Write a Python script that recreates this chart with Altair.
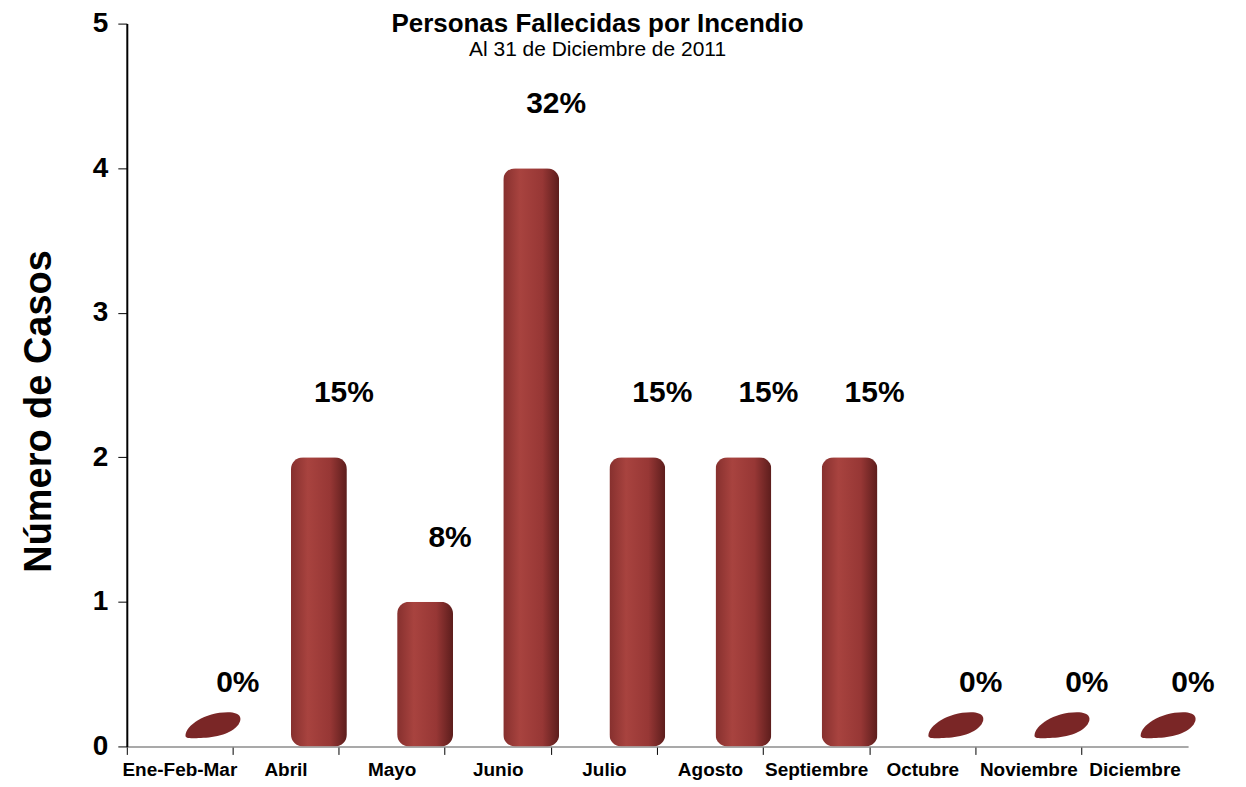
import altair as alt
import pandas as pd

meses = ["Ene-Feb-Mar", "Abril", "Mayo", "Junio", "Julio", "Agosto",
         "Septiembre", "Octubre", "Noviembre", "Diciembre"]
casos = [0, 2, 1, 4, 2, 2, 2, 0, 0, 0]
porcentajes = ["0%", "15%", "8%", "32%", "15%", "15%", "15%", "0%", "0%", "0%"]

df = pd.DataFrame({"mes": meses, "casos": casos, "pct": porcentajes})

FONT = "Liberation Sans"

x_enc = alt.X("mes:N", sort=meses, title=None,
              scale=alt.Scale(paddingInner=0, paddingOuter=0),
              axis=alt.Axis(labelAngle=0, labelFontSize=19, labelFontWeight="bold",
                            labelColor="black", labelFont=FONT, labelPadding=6,
                            tickSize=8, tickColor="black", bandPosition=0,
                            domainColor="#8c8c8c", domainWidth=1.5, labelLimit=200))
y_enc = alt.Y("casos:Q", title="Número de Casos",
              scale=alt.Scale(domain=[0, 5], nice=False),
              axis=alt.Axis(values=[0, 1, 2, 3, 4, 5], grid=False, labelFontSize=28,
                            labelFontWeight="bold", labelColor="black", labelFont=FONT,
                            labelPadding=10, tickSize=9, tickColor="black",
                            domainColor="black", domainWidth=2,
                            titleFontSize=38, titleFontWeight="bold", titleFont=FONT,
                            titleColor="black", titlePadding=34, titleY=388))

grad = alt.Gradient(gradient="linear", x1=0, x2=1, y1=0, y2=0,
                    stops=[alt.GradientStop(color="#86302e", offset=0),
                           alt.GradientStop(color="#a8433f", offset=0.3),
                           alt.GradientStop(color="#973735", offset=0.7),
                           alt.GradientStop(color="#5c1d1c", offset=1)])

bars = alt.Chart(df).mark_bar(color=grad, size=56, xOffset=33,
                              cornerRadius=12).encode(x=x_enc, y=y_enc)

discos = alt.Chart(df).transform_filter("datum.casos == 0").mark_point(
    filled=True, color="#7a2626", opacity=1, size=3000, xOffset=33, yOffset=-22,
    shape="M-1,0.4 C-1,0.05 -0.3,-0.45 0.55,-0.45 C1.05,-0.45 1.1,-0.2 0.9,0.05 C0.55,0.45 -0.2,0.5 -0.6,0.5 C-0.9,0.5 -1,0.5 -1,0.4 Z"
).encode(x=x_enc, y=y_enc)

etiquetas = alt.Chart(df).mark_text(fontSize=30, fontWeight="bold", font=FONT,
                                    color="black", dx=58, dy=-64, baseline="middle").encode(
    x=x_enc, y=y_enc, text="pct:N")

chart = alt.layer(bars, discos, etiquetas).properties(
    width=1063, height=724,
    autosize=alt.AutoSizeParams(type="none"),
    padding={"left": 119, "top": 15, "right": 50, "bottom": 38},
    title=alt.TitleParams("Personas Fallecidas por Incendio",
                          subtitle="Al 31 de Diciembre de 2011",
                          fontSize=26, fontWeight="bold", font=FONT, color="black",
                          subtitleFontSize=21, subtitleFont=FONT, subtitleColor="black",
                          subtitlePadding=2, anchor="middle", offset=-50, dx=-60)
).configure_view(stroke=None)

chart.save("out.html", embed_options={"renderer": "svg", "actions": False})
